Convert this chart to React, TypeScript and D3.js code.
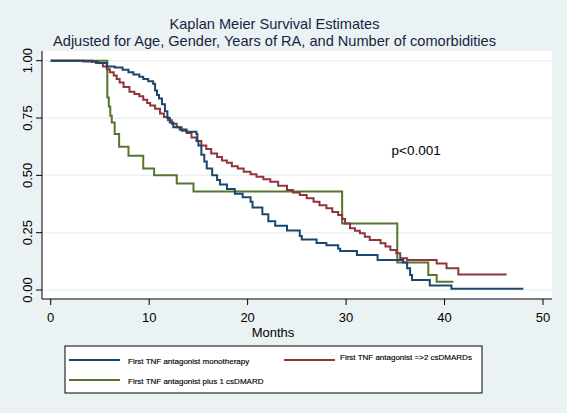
import React from "react";
import * as d3 from "d3";

const xTicks = [0, 10, 20, 30, 40, 50];
const yTicks = [0, 0.25, 0.5, 0.75, 1];
const yTickLabels = ["0.00", "0.25", "0.50", "0.75", "1.00"];

const titleLines = [
  "Kaplan Meier Survival Estimates",
  "Adjusted for Age, Gender, Years of RA, and Number of comorbidities",
];

const seriesNames = [
  "First TNF antagonist monotherapy",
  "First TNF antagonist =>2 csDMARDs",
  "First TNF antagonist plus 1 csDMARD",
];
const seriesColors = ["#1a476f", "#90353b", "#55752f"];

// First TNF antagonist monotherapy: [month, survival]
const monoSteps: [number, number][] = [
  [0, 1], [4.2, 0.995], [4.8, 0.99], [5.7, 0.975], [6.5, 0.97], [7.3, 0.96], [7.9, 0.95],
  [8.4, 0.94], [9.0, 0.93], [9.4, 0.92], [9.9, 0.91], [10.4, 0.9], [10.6, 0.87], [10.8, 0.85],
  [11.0, 0.835], [11.3, 0.81], [11.6, 0.78], [11.85, 0.75], [12.1, 0.73], [12.45, 0.71],
  [13.1, 0.7], [13.8, 0.69], [14.8, 0.68], [14.9, 0.65], [15.0, 0.63], [15.3, 0.59],
  [15.6, 0.56], [15.85, 0.53], [16.4, 0.5], [16.9, 0.48], [17.2, 0.46], [17.9, 0.44],
  [18.7, 0.42], [19.5, 0.405], [20.3, 0.385], [20.5, 0.36], [21.5, 0.33], [22.1, 0.3],
  [22.8, 0.28], [24.0, 0.26], [25.3, 0.235], [25.5, 0.22], [27.0, 0.205], [28.0, 0.195],
  [29.2, 0.18], [29.4, 0.17], [31.1, 0.153], [33.2, 0.131], [35.8, 0.12], [36.2, 0.095],
  [36.5, 0.065], [36.7, 0.044], [38.5, 0.02], [40.7, 0.005], [48.0, 0.005],
];

// First TNF antagonist =>2 csDMARDs
const multiSteps: [number, number][] = [
  [0, 1], [3.3, 0.996], [4.6, 0.99], [5.3, 0.975], [5.7, 0.963], [6.0, 0.95], [6.4, 0.935],
  [6.7, 0.92], [7.0, 0.905], [7.4, 0.885], [8.0, 0.865], [8.5, 0.855], [9.0, 0.845],
  [9.4, 0.83], [9.8, 0.815], [10.1, 0.805], [10.6, 0.79], [11.1, 0.77], [11.5, 0.755],
  [11.9, 0.74], [12.3, 0.725], [12.8, 0.71], [13.3, 0.695], [13.8, 0.685], [14.3, 0.665],
  [14.8, 0.65], [15.3, 0.63], [15.8, 0.615], [16.3, 0.595], [16.9, 0.58], [17.4, 0.565],
  [17.9, 0.555], [18.4, 0.54], [19.0, 0.53], [19.6, 0.516], [20.3, 0.505], [20.9, 0.494],
  [21.6, 0.483], [22.3, 0.472], [23.1, 0.455], [24.0, 0.436], [24.6, 0.425], [25.3, 0.414],
  [26.0, 0.4], [26.7, 0.385], [27.3, 0.37], [28.0, 0.356], [28.6, 0.34], [29.2, 0.327],
  [29.6, 0.31], [29.9, 0.29], [30.4, 0.269], [30.9, 0.258], [31.4, 0.247], [31.9, 0.232],
  [32.4, 0.218], [33.5, 0.204], [34.0, 0.19], [34.5, 0.174], [35.1, 0.16], [35.5, 0.138],
  [36.2, 0.131], [39.2, 0.116], [40.2, 0.095], [41.4, 0.068], [46.3, 0.068],
];

// First TNF antagonist plus 1 csDMARD
const plusOneSteps: [number, number][] = [
  [0, 1], [5.75, 0.84], [5.9, 0.8], [6.05, 0.76], [6.2, 0.73], [6.5, 0.68], [6.95, 0.625],
  [7.9, 0.585], [9.4, 0.53], [10.5, 0.5], [12.8, 0.465], [14.5, 0.43], [29.6, 0.29],
  [35.2, 0.12], [38.35, 0.065], [39.2, 0.036], [40.9, 0.036],
];

const seriesData = [monoSteps, multiSteps, plusOneSteps];

const W = 567;
const H = 413;
const plotLeft = 42;
const plotRight = 552;
const plotTop = 51;
const plotBottom = 299;
const font = "'Liberation Sans', Arial, Helvetica, sans-serif";

export default function App() {
  const x = d3.scaleLinear().domain([0, 50]).range([50.7, 543]);
  const y = d3.scaleLinear().domain([0, 1]).range([290, 60.7]);
  const line = d3
    .line<[number, number]>()
    .x((d) => x(d[0]))
    .y((d) => y(d[1]))
    .curve(d3.curveStepAfter);

  const order = [2, 1, 0];

  return (
    <svg
      width={W}
      height={H}
      style={{ position: "fixed", left: 0, top: 0, display: "block" }}
      fontFamily={font}
    >
      <rect x={0} y={0} width={W} height={H} fill="#eaf2f3" />
      <rect
        x={plotLeft}
        y={plotTop}
        width={plotRight - plotLeft}
        height={plotBottom - plotTop}
        fill="#ffffff"
      />
      {titleLines.map((t, i) => (
        <text
          key={i}
          x={274.5}
          y={i === 0 ? 28.5 : 46}
          textAnchor="middle"
          fontSize={14.6}
          fill="#1a2340"
        >
          {t}
        </text>
      ))}
      {yTicks.map((v) => (
        <line
          key={"g" + v}
          x1={plotLeft}
          x2={plotRight}
          y1={y(v)}
          y2={y(v)}
          stroke="#eaf2f3"
          strokeWidth={1.5}
        />
      ))}
      {order.map((i) => (
        <path
          key={i}
          d={line(seriesData[i]) || ""}
          fill="none"
          stroke={seriesColors[i]}
          strokeWidth={2}
        />
      ))}
      <line x1={plotLeft} x2={plotLeft} y1={plotTop} y2={plotBottom} stroke="#000" strokeWidth={1} />
      <line x1={plotLeft} x2={plotRight} y1={plotBottom} y2={plotBottom} stroke="#000" strokeWidth={1} />
      {yTicks.map((v, i) => (
        <g key={"y" + v}>
          <line x1={36} x2={plotLeft} y1={y(v)} y2={y(v)} stroke="#000" strokeWidth={1} />
          <text
            transform={`translate(31.5,${y(v)}) rotate(-90)`}
            textAnchor="middle"
            fontSize={13}
            fill="#000"
          >
            {yTickLabels[i]}
          </text>
        </g>
      ))}
      {xTicks.map((v) => (
        <g key={"x" + v}>
          <line x1={x(v)} x2={x(v)} y1={plotBottom} y2={305} stroke="#000" strokeWidth={1} />
          <text x={x(v)} y={321.5} textAnchor="middle" fontSize={13} fill="#000">
            {v}
          </text>
        </g>
      ))}
      <text x={273} y={336.5} textAnchor="middle" fontSize={13} fill="#000">
        Months
      </text>
      <text x={391.5} y={155} fontSize={13.5} fill="#000">
        p&lt;0.001
      </text>
      <rect x={65} y={346} width={417} height={47} fill="#ffffff" stroke="#000" strokeWidth={1} />
      <line x1={69} x2={120} y1={360} y2={360} stroke={seriesColors[0]} strokeWidth={2} />
      <text x={128} y={363.5} fontSize={8} fill="#000" stroke="#000" strokeWidth={0.15}>
        {seriesNames[0]}
      </text>
      <line x1={284} x2={335} y1={360} y2={360} stroke={seriesColors[1]} strokeWidth={2} />
      <text x={340} y={360} fontSize={8} fill="#000" stroke="#000" strokeWidth={0.15}>
        {seriesNames[1]}
      </text>
      <line x1={69} x2={120} y1={380} y2={380} stroke={seriesColors[2]} strokeWidth={2} />
      <text x={128} y={383.5} fontSize={8} fill="#000" stroke="#000" strokeWidth={0.15}>
        {seriesNames[2]}
      </text>
    </svg>
  );
}
